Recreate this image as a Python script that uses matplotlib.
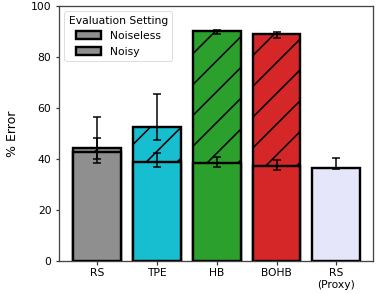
import matplotlib.pyplot as plt
import numpy as np
from matplotlib.patches import Patch

# Data
methods = ["RS", "TPE", "HB", "BOHB", "RS\n(Proxy)"]
colors = ["#8f8f8f", "#17becf", "#2ca02c", "#d62728", "#e6e6fa"]

noiseless = [42.6, 38.8, 38.3, 37.4, 36.3]
noiseless_low = [39.9, 37.0, 37.0, 35.7, 36.0]
noiseless_high = [48.1, 42.5, 40.9, 39.5, 40.4]

noisy = [44.4, 52.4, 90.2, 89.2]
noisy_low = [38.3, 47.5, 88.9, 87.5]
noisy_high = [56.4, 65.5, 90.4, 89.7]

# high dpi so the hatch comes out as sparse as in the reference
DPI = 185


def px(v):
    # pixels -> points
    return v * 72 / DPI


fig = plt.figure(figsize=(376 / DPI, 294 / DPI), dpi=DPI)
ax = fig.add_axes([59 / 376, 33 / 294, 314 / 376, 255 / 294])

plt.rcParams["hatch.linewidth"] = px(1.6)
x = np.arange(len(methods))
xn = x[: len(noisy)]
width = 0.8
edge_lw = px(2.4)

# Noisy bars (hatched) behind, noiseless bars in front
ax.bar(xn, noisy, width, color=colors[: len(noisy)], edgecolor="black",
       linewidth=edge_lw, hatch="//", zorder=2)
ax.bar(x, noiseless, width, color=colors, edgecolor="black",
       linewidth=edge_lw, zorder=3)

err_kw = dict(fmt="none", ecolor="black", elinewidth=px(1.5), capsize=px(4),
              capthick=px(1.5), zorder=5)
ax.errorbar(xn, noisy,
            yerr=[np.subtract(noisy, noisy_low), np.subtract(noisy_high, noisy)],
            **err_kw)
ax.errorbar(x, noiseless,
            yerr=[np.subtract(noiseless, noiseless_low),
                  np.subtract(noiseless_high, noiseless)],
            **err_kw)

fs = px(10.8)
ax.set_xlim(-0.63, 4.61)
ax.set_ylim(0, 100)
ax.set_xticks(x)
ax.set_xticklabels(methods, fontsize=fs)
ax.tick_params(axis="y", labelsize=fs)
ax.tick_params(length=px(3.5), width=px(1.2), pad=px(4), color="#333333")
ax.set_ylabel("% Error", fontsize=px(12.5), labelpad=px(12))
for s in ax.spines.values():
    s.set_color("#444444")
    s.set_linewidth(px(1.3))

handles = [
    Patch(facecolor="#8f8f8f", edgecolor="black", linewidth=edge_lw, label="Noiseless"),
    Patch(facecolor="#8f8f8f", edgecolor="black", linewidth=edge_lw, hatch="//", label="Noisy"),
]
leg = ax.legend(handles=handles, title="Evaluation Setting", loc="upper left",
                borderaxespad=0.5, fontsize=fs, title_fontsize=fs,
                handlelength=2.3, handleheight=0.8,
                framealpha=1, edgecolor="#dddddd", fancybox=True)
leg.get_frame().set_linewidth(px(1.0))

fig.savefig("out.png", dpi=DPI)
